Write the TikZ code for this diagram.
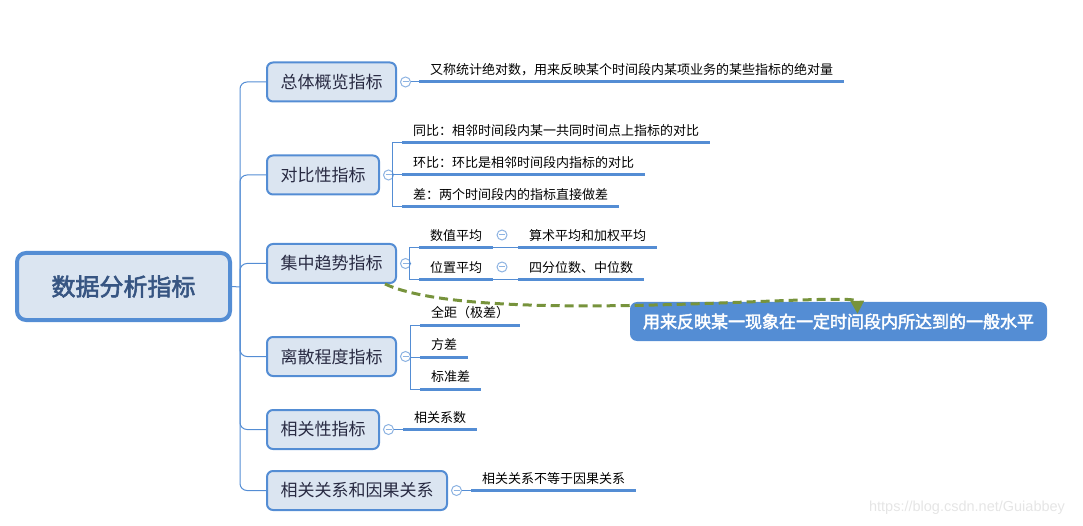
\documentclass[tikz,border=0pt]{standalone}
\usepackage{fontspec}
\usepackage{xcolor}
\usepackage{tikz}
\usetikzlibrary{arrows.meta,positioning,calc}
\newfontfamily\cjk{Noto Sans CJK SC}
\newfontfamily\cjkbold[FakeBold=2.5]{Noto Sans CJK SC}
\newfontfamily\wmfont{Liberation Sans}
\definecolor{mapblue}{RGB}{84,141,212}
\definecolor{mapfill}{RGB}{219,229,241}
\definecolor{foldblue}{RGB}{141,179,226}
\definecolor{rootink}{RGB}{55,85,130}
\definecolor{topicink}{RGB}{40,42,66}
\definecolor{arrowgreen}{RGB}{119,147,60}

\tikzset{
  rootbox/.style={draw=mapblue, line width=4pt, fill=mapfill, rounded corners=9pt,
    minimum width=213pt, minimum height=67pt, text=rootink,
    font=\cjkbold\fontsize{24}{28}\selectfont},
  topic/.style={draw=mapblue, line width=2pt, fill=mapfill, rounded corners=6pt,
    inner xsep=13.5pt, minimum height=39pt, anchor=west, text=topicink,
    font=\cjk\fontsize{17}{20}\selectfont},
  leaf/.style={inner xsep=11pt, inner ysep=0pt, text height=11pt, text depth=7pt,
    anchor=south west, font=\cjk\fontsize{13}{15}\selectfont},
  uline/.style={draw=mapblue, line width=3pt},
  link/.style={draw=mapblue, line width=1pt},
  fold/.style={circle, draw=foldblue, line width=1pt, fill=white, minimum size=10pt,
    inner sep=0pt, path picture={\draw[foldblue, line width=1pt]
      ([xshift=-3pt]path picture bounding box.center) --
      ([xshift=3pt]path picture bounding box.center);}},
  note/.style={fill=mapblue, rounded corners=7pt, minimum width=417pt,
    minimum height=39pt, text=white, font=\cjkbold\fontsize{17}{20}\selectfont},
}

\begin{document}
\begin{tikzpicture}[x=1pt, y=-1pt]
\useasboundingbox (0,0) rectangle (1083,526);

% root and first level topics
\node[rootbox] (root) at (123.5,286.5) {数据分析指标};
\node[topic] (b1) at (266,82) {总体概览指标};
\node[topic] (b2) at (266,175) {对比性指标};
\node[topic] (b3) at (266,263.5) {集中趋势指标};
\node[topic] (b4) at (266,356.5) {离散程度指标};
\node[topic] (b5) at (266,429.5) {相关性指标};
\node[topic] (b6) at (266,490.5) {相关关系和因果关系};

% trunk from root to topics
\coordinate (trunk) at (240,287);
\draw[link] (root.east) -- (trunk);
\foreach \b in {b1,b2,b3,b4,b5,b6}{
  \draw[link, rounded corners=7pt] (trunk) |- (\b.west);
}

% fold markers
\foreach \b in {1,...,6}{
  \node[fold, right=3pt of b\b] (f\b) {};
}

% leaves
\node[leaf] (l1) at (419,82) {又称统计绝对数，用来反映某个时间段内某项业务的某些指标的绝对量};
\node[leaf] (l21) at (402,143) {同比：相邻时间段内某一共同时间点上指标的对比};
\node[leaf] (l22) at (402,175) {环比：环比是相邻时间段内指标的对比};
\node[leaf] (l23) at (402,207) {差：两个时间段内的指标直接做差};
\node[leaf] (l31) at (419,248) {数值平均};
\node[leaf] (l32) at (419,280) {位置平均};
\node[leaf] (l311) at (518,248) {算术平均和加权平均};
\node[leaf] (l321) at (518,280) {四分位数、中位数};
\node[leaf] (l41) at (420,325) {全距（极差）};
\node[leaf] (l42) at (420,357) {方差};
\node[leaf] (l43) at (420,389) {标准差};
\node[leaf] (l5) at (403,429.5) {相关系数};
\node[leaf] (l6) at (471,490.5) {相关关系不等于因果关系};
\foreach \n in {l1,l21,l22,l23,l31,l32,l311,l321,l41,l42,l43,l5,l6}{
  \draw[uline] (\n.south west) -- (\n.south east);
}
\node[fold] (f31) at (502,235) {};
\node[fold] (f32) at (502,267) {};

% connectors to leaves
\coordinate (j2) at (392,175);
\coordinate (j3) at (409,264);
\coordinate (j4) at (410,356.5);
\draw[link] (f1.east) -- (l1.south west);
\draw[link] (f2.east) -- (j2);
\foreach \n in {l21,l22,l23}{ \draw[link] (j2) |- (\n.south west); }
\draw[link] (f3.east) -- (j3);
\foreach \n in {l31,l32}{ \draw[link] (j3) |- (\n.south west); }
\draw[link] (l31.south east) -- (l311.south west);
\draw[link] (l32.south east) -- (l321.south west);
\draw[link] (f4.east) -- (j4);
\foreach \n in {l41,l42,l43}{ \draw[link] (j4) |- (\n.south west); }
\draw[link] (f5.east) -- (l5.south west);
\draw[link] (f6.east) -- (l6.south west);

% callout and dashed relation
\node[note] (callout) at (838.5,321.5) {用来反映某一现象在一定时间段内所达到的一般水平};
\draw[arrowgreen, line width=3pt, dash pattern=on 9pt off 5pt,
  -{Triangle[length=13pt,width=13pt]}]
  ([xshift=-12pt]b3.south east) .. controls (480,328) and (857,290) ..
  ([xshift=19pt,yshift=-12pt]callout.north);

% watermark
\node[text=black!10, font=\wmfont\fontsize{14.5}{16}\selectfont] (wm) at (967,508) {https://blog.csdn.net/Guiabbey};
\end{tikzpicture}
\end{document}
